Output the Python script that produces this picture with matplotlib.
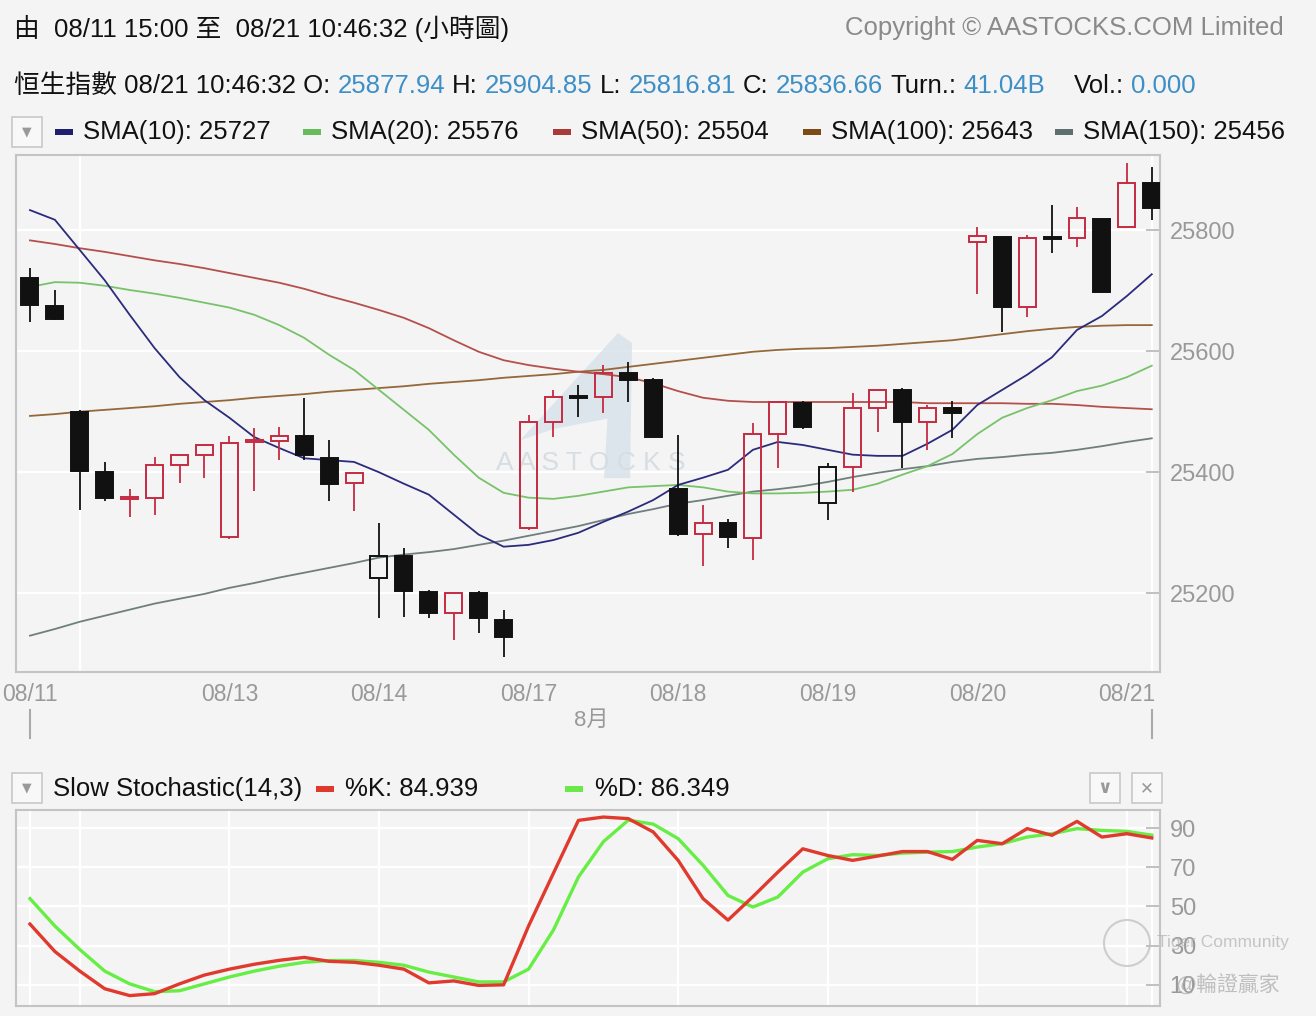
import matplotlib
matplotlib.use("Agg")
import matplotlib.pyplot as plt
from matplotlib.patches import Rectangle, Circle, Polygon
from matplotlib.transforms import blended_transform_factory
import numpy as np

plt.rcParams['font.family'] = ['Liberation Sans', 'Noto Sans CJK TC', 'DejaVu Sans']

# hourly HSI candles, 08/11 15:00 -> 08/21 10:00
opens = [25721, 25675, 25500, 25400, 25356, 25358, 25412, 25429, 25293, 25450,
         25452, 25460, 25424, 25382, 25226, 25262, 25202, 25168, 25201, 25156,
         25308, 25483, 25526, 25524, 25564, 25552, 25372, 25298, 25316, 25292,
         25463, 25514, 25349, 25409, 25506, 25536, 25483, 25506, 25780, 25788,
         25673, 25788, 25787, 25818, 25805, 25877.94]
highs = [25737, 25701, 25502, 25417, 25372, 25425, 25430, 25447, 25460, 25473,
         25475, 25523, 25453, 25400, 25316, 25275, 25205, 25202, 25203, 25173,
         25495, 25536, 25544, 25577, 25582, 25555, 25462, 25346, 25323, 25481,
         25518, 25518, 25415, 25531, 25538, 25539, 25511, 25518, 25805, 25790,
         25792, 25841, 25838, 25819, 25911, 25904.85]
lows = [25648, 25652, 25338, 25353, 25326, 25330, 25382, 25391, 25290, 25369,
        25420, 25420, 25353, 25336, 25160, 25161, 25160, 25123, 25135, 25095,
        25305, 25458, 25491, 25498, 25516, 25456, 25295, 25245, 25275, 25255,
        25407, 25472, 25321, 25368, 25467, 25407, 25437, 25457, 25694, 25632,
        25656, 25762, 25772, 25697, 25803, 25816.81]
closes = [25676, 25653, 25402, 25358, 25359, 25412, 25429, 25445, 25448, 25453,
          25460, 25429, 25381, 25399, 25262, 25204, 25168, 25201, 25160, 25127,
          25483, 25524, 25523, 25564, 25553, 25458, 25298, 25316, 25293, 25463,
          25516, 25475, 25409, 25506, 25536, 25483, 25506, 25498, 25790, 25673,
          25787, 25786, 25820, 25698, 25878, 25836.66]

sma10 = [25833, 25817, 25767, 25717, 25660, 25605, 25557, 25519, 25490, 25458,
         25440, 25423, 25420, 25417, 25400, 25381, 25363, 25330, 25297, 25277,
         25280, 25288, 25300, 25318, 25335, 25354, 25379, 25391, 25404, 25437,
         25450, 25445, 25437, 25429, 25427, 25427, 25447, 25470, 25511, 25536,
         25561, 25590, 25635, 25658, 25691, 25727]
sma20 = [25706, 25714, 25713, 25708, 25701, 25695, 25688, 25680, 25672, 25660,
         25643, 25622, 25594, 25569, 25536, 25503, 25470, 25429, 25391, 25366,
         25358, 25356, 25361, 25368, 25375, 25377, 25379, 25375, 25368, 25365,
         25365, 25366, 25368, 25371, 25381, 25396, 25410, 25430, 25463, 25490,
         25506, 25519, 25534, 25543, 25557, 25576]
sma50 = [25783, 25777, 25770, 25764, 25757, 25750, 25744, 25737, 25729, 25721,
         25713, 25703, 25691, 25680, 25668, 25655, 25638, 25618, 25599, 25585,
         25577, 25571, 25566, 25562, 25557, 25547, 25534, 25523, 25518, 25516,
         25516, 25516, 25516, 25516, 25516, 25516, 25514, 25514, 25514, 25514,
         25513, 25513, 25511, 25508, 25506, 25504]
sma100 = [25493, 25496, 25500, 25503, 25506, 25509, 25513, 25516, 25519, 25523,
          25526, 25529, 25533, 25536, 25539, 25542, 25546, 25549, 25552, 25556,
          25559, 25562, 25566, 25569, 25574, 25579, 25584, 25589, 25594, 25599,
          25602, 25604, 25605, 25607, 25609, 25612, 25615, 25618, 25623, 25628,
          25633, 25637, 25640, 25642, 25643, 25643]
sma150 = [25130, 25141, 25153, 25163, 25173, 25183, 25191, 25199, 25209, 25217,
          25226, 25234, 25242, 25250, 25259, 25264, 25268, 25273, 25280, 25287,
          25295, 25303, 25311, 25321, 25331, 25339, 25348, 25354, 25361, 25368,
          25372, 25377, 25384, 25392, 25399, 25405, 25410, 25417, 25422, 25425,
          25429, 25432, 25437, 25443, 25450, 25456]

stoch_k = [41, 27, 17, 8, 4.5, 5.5, 10.5, 15, 18, 20.5,
           22.5, 24, 22, 21.5, 20, 18, 11, 12, 9.7, 10,
           40, 67, 93.9, 95.6, 94.8, 88, 73.5, 54, 43, 55,
           67.5, 79.4, 76, 73.5, 75.7, 78, 78, 74, 83.7, 82,
           89.7, 86.3, 93.4, 85.4, 87.1, 84.939]
stoch_d = [54, 40, 28, 17, 10.5, 6.5, 7, 10.5, 14, 17,
           19.5, 21.5, 22.4, 22.4, 21.5, 20, 16.5, 14, 11.5, 11.5,
           18, 38, 65, 83, 94, 92, 84.6, 71, 55.6, 49.7,
           54.8, 67.5, 74.3, 76.4, 76, 77.2, 77.7, 78, 80.3, 82,
           85.4, 87.1, 89.7, 88.8, 88.3, 86.349]

day_starts = [0, 2, 8, 14, 20, 26, 32, 38, 44, 45]
label_pos = [0, 8, 14, 20, 26, 32, 38, 44]
date_labels = ['08/11', '08/13', '08/14', '08/17', '08/18', '08/19', '08/20', '08/21']
price_ticks = [25200, 25400, 25600, 25800]
stoch_ticks = [10, 30, 50, 70, 90]

BG = '#f4f4f4'
RED = '#c42b43'
BLACK = '#111111'
BLUE = '#3d8fc6'
TICKC = '#999999'
sma_cols = ['#2b2b7c', '#78c26a', '#b4504c', '#94683a', '#6f7f7d']
dash_cols = ['#1f1f6e', '#66bb5a', '#a83a38', '#7b4a17', '#5f706e']

W, H = 1316, 1016
fig = plt.figure(figsize=(W / 100, H / 100), dpi=100, facecolor=BG)

def px_axes(l, t, r, b):
    return [l / W, 1 - b / H, (r - l) / W, (b - t) / H]

ax = fig.add_axes(px_axes(16, 155, 1160, 672), facecolor=BG)
ax2 = fig.add_axes(px_axes(16, 810, 1160, 1006), facecolor=BG)
ov = fig.add_axes([0, 0, 1, 1], zorder=5)
ov.set_xlim(0, W)
ov.set_ylim(H, 0)
ov.axis('off')

xs = np.arange(len(closes))

# --- main panel ---
for line, col in zip([sma150, sma100, sma50, sma20, sma10], sma_cols[::-1]):
    ax.plot(xs, line, color=col, lw=1.3, zorder=2)

prev = [opens[0]] + closes[:-1]
bw = 0.68
for i in xs:
    o, h, l, c = opens[i], highs[i], lows[i], closes[i]
    col = RED if c > prev[i] else BLACK
    lo_b, hi_b = min(o, c), max(o, c)
    ax.vlines(i, l, lo_b, color=col, lw=1.3, zorder=3)
    ax.vlines(i, hi_b, h, color=col, lw=1.3, zorder=3)
    face = col if c < o else 'none'
    ax.add_patch(Rectangle((i - bw / 2, lo_b), bw, max(hi_b - lo_b, 0.6),
                           facecolor=face, edgecolor=col, lw=1.4, zorder=4))

ax.set_xlim(-0.56, 45.33)
ax.set_ylim(25070, 25924)
ax.yaxis.tick_right()
ax.set_yticks(price_ticks)
ax.set_xticks(label_pos)
ax.set_xticklabels(date_labels)
ax.set_xticks(day_starts, minor=True)
ax.tick_params(axis='y', direction='in', length=10, width=1.2, color='#b5b5b5',
               labelcolor=TICKC, labelsize=17, pad=7)
ax.tick_params(axis='x', which='both', length=0, labelcolor=TICKC, labelsize=16.5, pad=8)
ax.grid(which='major', axis='y', color='white', lw=1.6)
ax.grid(which='minor', axis='x', color='white', lw=1.6)
ax.set_axisbelow(True)
for s in ax.spines.values():
    s.set_color('#c4c4c4')
    s.set_linewidth(1.5)

# watermark logo
ax.add_patch(Polygon([(0.4406, 0.448), (0.5262, 0.6557), (0.5385, 0.6364), (0.5368, 0.375),
                      (0.5140, 0.375), (0.5170, 0.49), (0.47, 0.47)],
                     closed=True, transform=ax.transAxes, facecolor='#d8e2ea', edgecolor='none',
                     alpha=0.8, zorder=1))
ax.text(0.502, 0.404, 'A A S T O C K S', transform=ax.transAxes, ha='center', va='center',
        fontsize=19, color='#d6dde3', zorder=1)

# month marker under the axis
trans = blended_transform_factory(ax.transData, ov.transData)
for xi in [xs[0], xs[-1]]:
    ov.plot([xi, xi], [710, 738], color='#aaaaaa', lw=1.5, transform=trans)
ov.text((xs[0] + xs[-1]) / 2, 720, '8月', transform=trans, ha='center', va='center',
        fontsize=16, color=TICKC)

# --- stochastic panel ---
ax2.plot(xs, stoch_d, color='#66ee44', lw=2.4, zorder=3)
ax2.plot(xs, stoch_k, color='#e03a2e', lw=2.4, zorder=3)
ax2.set_xlim(-0.56, 45.33)
ax2.set_ylim(-0.8, 99.2)
ax2.yaxis.tick_right()
ax2.set_yticks(stoch_ticks)
ax2.set_xticks([])
ax2.set_xticks(day_starts, minor=True)
ax2.tick_params(axis='y', direction='in', length=10, width=1.2, color='#b5b5b5',
                labelcolor=TICKC, labelsize=17, pad=7)
ax2.tick_params(axis='x', which='both', length=0, labelbottom=False)
ax2.grid(which='major', axis='y', color='white', lw=1.6)
ax2.grid(which='minor', axis='x', color='white', lw=1.6)
ax2.set_axisbelow(True)
for s in ax2.spines.values():
    s.set_color('#c4c4c4')
    s.set_linewidth(1.5)

# --- header texts ---
FS = 18.5
ov.text(14, 28, '由  08/11 15:00 至  08/21 10:46:32 (小時圖)', ha='left', va='center',
        fontsize=FS, color='#111111')
ov.text(1284, 28, 'Copyright © AASTOCKS.COM Limited', ha='right', va='center',
        fontsize=FS, color='#8a8a8a')

quote = [('恒生指數 08/21 10:46:32 O:', '#111111', 0),
         ('25877.94', BLUE, 1), ('H:', '#111111', 1), ('25904.85', BLUE, 1),
         ('L:', '#111111', 1), ('25816.81', BLUE, 1), ('C:', '#111111', 1),
         ('25836.66', BLUE, 1), ('Turn.:', '#111111', 1), ('41.04B', BLUE, 1),
         ('Vol.:', '#111111', 4), ('0.000', BLUE, 1)]
r = fig.canvas.get_renderer()
space = FS * 100 / 72 * 0.278
xpos = 14
for txt, col, gap in quote:
    xpos += gap * space
    t = ov.text(xpos, 86, txt, ha='left', va='center', fontsize=FS, color=col)
    bb = t.get_window_extent(r)
    xpos += bb.width

def drop_box(x, y, sym, size=9):
    ov.add_patch(Rectangle((x, y), 30, 30, facecolor='#f8f8f8', edgecolor='#c8c8c8', lw=1.2))
    ov.text(x + 15, y + 15, sym, ha='center', va='center', fontsize=size, color='#999999',
            family='DejaVu Sans', fontweight='bold')

drop_box(12, 117, '▼')
sma_labels = ['SMA(10): 25727', 'SMA(20): 25576', 'SMA(50): 25504',
              'SMA(100): 25643', 'SMA(150): 25456']
dash_x = [55, 303, 553, 803, 1055]
for lab, col, dx in zip(sma_labels, dash_cols, dash_x):
    ov.add_patch(Rectangle((dx, 129), 18, 6, facecolor=col, edgecolor='none'))
    ov.text(dx + 28, 132, lab, ha='left', va='center', fontsize=FS, color='#111111')

drop_box(12, 773, '▼')
ov.text(53, 789, 'Slow Stochastic(14,3)', ha='left', va='center', fontsize=FS, color='#111111')
ov.add_patch(Rectangle((316, 786), 18, 6, facecolor='#e0392b', edgecolor='none'))
ov.text(345, 789, '%K: 84.939', ha='left', va='center', fontsize=FS, color='#111111')
ov.add_patch(Rectangle((565, 786), 18, 6, facecolor='#6be84a', edgecolor='none'))
ov.text(595, 789, '%D: 86.349', ha='left', va='center', fontsize=FS, color='#111111')
drop_box(1090, 773, '∨', 13)
drop_box(1132, 773, '✕', 12)

# community watermark (semi-transparent, tick labels stay readable beneath)
ov.add_patch(Circle((1127, 943), 23, facecolor='none', edgecolor='#bdbdbd', lw=1.5, alpha=0.7))
ov.text(1157, 943, 'Tiger Community', ha='left', va='center', fontsize=12.5, color='#b0b0b0',
        alpha=0.7)
ov.text(1175, 985, '@輪證贏家', ha='left', va='center', fontsize=15, color='#a8a8a8',
        alpha=0.7)

fig.savefig('out.png', dpi=100, facecolor=BG)
